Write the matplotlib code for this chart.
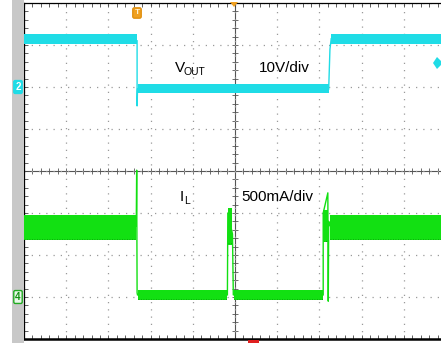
import numpy as np
import matplotlib
matplotlib.use("Agg")
import matplotlib.pyplot as plt
from matplotlib.patches import Rectangle, Polygon

plt.rcParams['font.family'] = ['Liberation Sans', 'DejaVu Sans']

# Screen geometry: 10 horizontal divisions, 8 vertical (centre = 0)
n_xdiv = 10
n_ydiv = 8

# VOUT (channel 2, 10 V/div): flat bands [t_start, t_end, top, bottom] in divisions
vout_bands = [
    (0.00, 2.68, 3.27, 3.03),
    (2.69, 7.22, 2.08, 1.85),
    (7.28, 10.6, 3.27, 3.03),
]
# VOUT edges as thin polylines (t, level)
vout_fall_t = [2.68, 2.68, 2.69]
vout_fall_v = [3.10, 1.55, 1.95]
vout_rise_t = [7.22, 7.25, 7.28]
vout_rise_v = [1.95, 2.90, 3.15]

# IL (channel 4, 500 mA/div): ripple bands [t_start, t_end, top, bottom]
il_bands = [
    (0.00, 2.66, -1.04, -1.64),
    (2.69, 4.82, -2.84, -3.08),
    (4.83, 4.94, -0.88, -1.75),
    (4.97, 7.09, -2.84, -3.08),
    (7.09, 7.20, -0.92, -1.70),
    (7.25, 10.6, -1.04, -1.64),
]
# IL switching edges as thin polylines
il_edge1_t = [2.66, 2.67, 2.68, 2.69]
il_edge1_v = [-1.30, 0.02, -2.90, -2.95]
il_edge2_t = [4.82, 4.83, 4.94, 4.96, 4.97]
il_edge2_v = [-2.95, -1.00, -1.50, -2.95, -2.95]
il_edge3_t = [7.09, 7.09, 7.20, 7.21, 7.22, 7.25]
il_edge3_v = [-2.95, -1.00, -0.52, -3.10, -1.20, -1.30]

vout_color = '#1fdce6'
il_color = '#12e012'

W, H = 441, 343
fig = plt.figure(figsize=(W / 100, H / 100), dpi=100)
fig.patch.set_facecolor('white')

# left gray channel strip
fig.patches.append(Rectangle((12 / W, 0), 12 / W, 1, transform=fig.transFigure,
                             facecolor='#c8c8c8', edgecolor='none', zorder=0))

x0, x1 = 24, 446
y_top, y_bot = 3, 339
ax = fig.add_axes([x0 / W, (H - y_bot) / H, (x1 - x0) / W, (y_bot - y_top) / H])
ax.set_xlim(0, n_xdiv)
ax.set_ylim(-n_ydiv / 2, n_ydiv / 2)
ax.set_facecolor('white')

# graticule
ax.set_xticks(np.arange(0, n_xdiv + 0.01, 1))
ax.set_yticks(np.arange(-4, 4.01, 1))
ax.set_xticks(np.arange(0, n_xdiv + 0.01, 0.2), minor=True)
ax.set_yticks(np.arange(-4, 4.01, 0.2), minor=True)
ax.tick_params(which='both', direction='in', length=3, width=0.6, color='#444444',
               top=True, bottom=True, left=True, right=False,
               labelbottom=False, labelleft=False)
ax.grid(which='major', color='#9a9a9a', linestyle=(0, (1, 4.8)), linewidth=0.9)
for side in ['right']:
    ax.spines[side].set_visible(False)
ax.spines['top'].set_linewidth(0.9)
ax.spines['left'].set_linewidth(0.9)
ax.spines['bottom'].set_linewidth(1.8)

# centre crosshair with sub-division ticks
ax.axhline(0, color='#555555', linewidth=0.8, zorder=1)
ax.axvline(5, color='#555555', linewidth=0.8, zorder=1)
sub = np.arange(0, n_xdiv + 0.01, 0.2)
ax.plot(sub, np.zeros_like(sub), linestyle='none', marker='|', markersize=4,
        color='#555555', markeredgewidth=0.6, zorder=1)
suby = np.arange(-4, 4.01, 0.2)
ax.plot(np.full_like(suby, 5), suby, linestyle='none', marker='_', markersize=4,
        color='#555555', markeredgewidth=0.6, zorder=1)

# traces
for t0, t1, top, bot in vout_bands:
    ax.fill_between([t0, t1], [top, top], [bot, bot], color=vout_color, linewidth=0, zorder=3)
ax.plot(vout_fall_t, vout_fall_v, color=vout_color, linewidth=1.0, zorder=3)
ax.plot(vout_rise_t, vout_rise_v, color=vout_color, linewidth=1.0, zorder=3)

for t0, t1, top, bot in il_bands:
    ax.fill_between([t0, t1], [top, top], [bot, bot], color=il_color, linewidth=0, zorder=3)
    ax.plot([t0, t1], [bot + 0.03, bot + 0.03], color='#0a9a0a', linewidth=0.6,
            linestyle=(0, (1, 2)), zorder=3)
for tt, vv in [(il_edge1_t, il_edge1_v), (il_edge2_t, il_edge2_v), (il_edge3_t, il_edge3_v)]:
    ax.plot(tt, vv, color=il_color, linewidth=1.0, zorder=3)

# labels
def px(x, y):
    return x / W, 1 - y / H

tf = fig.transFigure
fig.text(*px(175, 72), 'V', fontsize=11, color='black', transform=tf, va='baseline')
fig.text(*px(184, 75), 'OUT', fontsize=7.5, color='black', transform=tf, va='baseline')
fig.text(*px(259, 72), '10V/div', fontsize=11, color='black', transform=tf, va='baseline')
fig.text(*px(180, 201), 'I', fontsize=11, color='black', transform=tf, va='baseline')
fig.text(*px(184, 204), 'L', fontsize=7.5, color='black', transform=tf, va='baseline')
fig.text(*px(241, 201), '500mA/div', fontsize=11, color='black', transform=tf, va='baseline')

# channel reference markers
fig.text(*px(18, 87), '2', fontsize=7, color='white', transform=tf, ha='center', va='center',
         fontweight='bold',
         bbox=dict(boxstyle='round,pad=0.15', facecolor=vout_color, edgecolor=vout_color))
fig.text(*px(18, 297), '4', fontsize=7, color='#129012', transform=tf, ha='center', va='center',
         fontweight='bold',
         bbox=dict(boxstyle='round,pad=0.15', facecolor='#e8f8e8', edgecolor='#22aa22'))

# trigger markers
fig.text(*px(137, 13), 'T', fontsize=6, color='#fff2d0', transform=tf, ha='center', va='center',
         fontweight='bold',
         bbox=dict(boxstyle='round,pad=0.2', facecolor='#f0a020', edgecolor='#e09010'))
fig.patches.append(Polygon([px(230, 2), px(238, 2), px(234, 7)], closed=True, transform=tf,
                           facecolor='#f0a020', edgecolor='none', zorder=5))
fig.patches.append(Rectangle(px(248, 343), 11 / W, 3 / H, transform=tf,
                             facecolor='#e02020', edgecolor='none', zorder=5))
fig.patches.append(Polygon([px(437, 57), px(443, 63), px(437, 69), px(433, 63)], closed=True,
                           transform=tf, facecolor=vout_color, edgecolor='none', zorder=5))

fig.savefig('out.png', dpi=100)
